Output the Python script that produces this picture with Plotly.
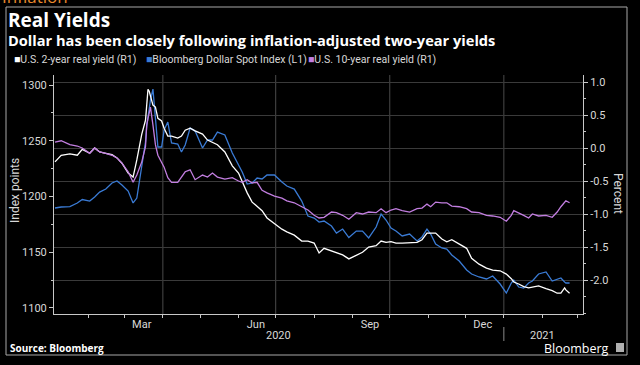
import plotly.graph_objects as go

# ---------------- data ----------------
dates = [
    "2020-01-05", "2020-01-10", "2020-01-17", "2020-01-23", "2020-01-27", "2020-02-02", "2020-02-06",
    "2020-02-10", "2020-02-15", "2020-02-20", "2020-02-24", "2020-02-28", "2020-03-04", "2020-03-08",
    "2020-03-11", "2020-03-15", "2020-03-18", "2020-03-19", "2020-03-20", "2020-03-21", "2020-03-22",
    "2020-03-24", "2020-03-26", "2020-03-28", "2020-03-31", "2020-04-02", "2020-04-05", "2020-04-08",
    "2020-04-13", "2020-04-16", "2020-04-19", "2020-04-23", "2020-04-27", "2020-05-03", "2020-05-07",
    "2020-05-11", "2020-05-15", "2020-05-21", "2020-05-27", "2020-06-01", "2020-06-04", "2020-06-08",
    "2020-06-12", "2020-06-16", "2020-06-20", "2020-06-24", "2020-06-30", "2020-07-06", "2020-07-10",
    "2020-07-16", "2020-07-22", "2020-07-27", "2020-08-01", "2020-08-05", "2020-08-09", "2020-08-15",
    "2020-08-19", "2020-08-24", "2020-08-29", "2020-09-04", "2020-09-09", "2020-09-14", "2020-09-20",
    "2020-09-24", "2020-09-28", "2020-10-02", "2020-10-06", "2020-10-11", "2020-10-17", "2020-10-23",
    "2020-10-27", "2020-10-31", "2020-11-03", "2020-11-07", "2020-11-12", "2020-11-16", "2020-11-20",
    "2020-11-26", "2020-12-02", "2020-12-06", "2020-12-12", "2020-12-18", "2020-12-23", "2020-12-29",
    "2021-01-03", "2021-01-07", "2021-01-09", "2021-01-13", "2021-01-17", "2021-01-21", "2021-01-24",
    "2021-01-29", "2021-02-04", "2021-02-09", "2021-02-13", "2021-02-16", "2021-02-19", "2021-02-20",
    "2021-02-23",
]

us2y_real = [
    -0.21, -0.11, -0.09, -0.11, -0.02, -0.08, 0.00, -0.06, -0.08, -0.10,
    -0.15, -0.23, -0.38, -0.44, -0.18, 0.21, 0.42, 0.73, 0.89, 0.86,
    0.80, 0.65, 0.62, 0.45, 0.41, 0.30, 0.18, 0.18, 0.15, 0.18,
    0.27, 0.30, 0.26, 0.21, 0.12, 0.09, 0.05, -0.06, -0.27, -0.38,
    -0.52, -0.68, -0.82, -0.89, -0.95, -1.06, -1.15, -1.23, -1.27, -1.32,
    -1.41, -1.41, -1.44, -1.59, -1.52, -1.56, -1.58, -1.62, -1.68, -1.62,
    -1.58, -1.50, -1.48, -1.41, -1.43, -1.42, -1.44, -1.44, -1.44, -1.43,
    -1.39, -1.29, -1.29, -1.29, -1.38, -1.42, -1.39, -1.45, -1.52, -1.67,
    -1.76, -1.82, -1.85, -1.86, -1.91, -1.98, -2.03, -2.06, -2.10, -2.12,
    -2.11, -2.09, -2.13, -2.16, -2.20, -2.20, -2.12, -2.15, -2.20,
]

dollar_index = [
    1189.7, 1190.6, 1191.0, 1194.2, 1197.3, 1195.9, 1199.5, 1204.0, 1206.7, 1212.1,
    1213.9, 1210.3, 1204.9, 1194.2, 1198.6, 1228.2, 1248.9, 1263.2, 1270.4, 1276.7,
    1286.5, 1296.4, 1268.6, 1244.4, 1244.4, 1259.6, 1266.8, 1248.0, 1247.1, 1239.9,
    1246.2, 1261.4, 1258.7, 1243.5, 1250.7, 1250.7, 1257.8, 1255.2, 1239.0, 1229.1,
    1222.0, 1211.2, 1212.1, 1216.6, 1215.7, 1219.3, 1219.3, 1213.0, 1209.4, 1206.7,
    1195.9, 1182.5, 1180.7, 1177.1, 1178.0, 1173.5, 1167.2, 1170.8, 1163.2, 1169.0,
    1169.0, 1162.8, 1172.6, 1184.3, 1178.9, 1171.7, 1169.0, 1164.6, 1166.3, 1160.1,
    1163.7, 1170.8, 1166.3, 1157.4, 1153.8, 1152.9, 1147.5, 1142.1, 1134.1, 1130.5,
    1127.8, 1126.0, 1128.7, 1121.5, 1113.4, 1122.4, 1125.1, 1118.8, 1117.8, 1122.4,
    1124.2, 1130.5, 1132.3, 1124.2, 1126.0, 1126.9, 1123.3, 1122.4, 1122.4,
]

us10y_real = [
    0.09, 0.11, 0.05, 0.03, 0.00, -0.08, 0.00, -0.06, -0.08, -0.11,
    -0.15, -0.23, -0.36, -0.52, -0.41, -0.21, 0.02, 0.35, 0.45, 0.55,
    0.62, 0.35, 0.05, -0.11, -0.21, -0.29, -0.45, -0.52, -0.52, -0.44,
    -0.36, -0.33, -0.48, -0.41, -0.44, -0.38, -0.44, -0.47, -0.45, -0.50,
    -0.52, -0.48, -0.53, -0.52, -0.64, -0.68, -0.73, -0.76, -0.80, -0.83,
    -0.89, -0.94, -1.02, -1.06, -1.05, -0.97, -0.98, -1.02, -1.08, -0.98,
    -1.00, -0.97, -0.98, -0.92, -0.98, -0.94, -0.92, -0.95, -0.97, -0.92,
    -0.91, -0.85, -0.89, -0.82, -0.83, -0.83, -0.88, -0.89, -0.92, -0.97,
    -0.98, -1.02, -1.03, -1.05, -1.11, -1.02, -0.95, -0.98, -1.02, -1.06,
    -1.00, -1.03, -1.02, -1.05, -0.97, -0.89, -0.82, -0.80, -0.83,
]

assert len(dates) == len(us2y_real) == len(dollar_index) == len(us10y_real)

series_names = ["U.S. 2-year real yield (R1)", "Bloomberg Dollar Spot Index (L1)", "U.S. 10-year real yield (R1)"]
series_colors = ["#ffffff", "#3a7bd5", "#c27ee0"]

month_label_dates = ["2020-03-15", "2020-06-15", "2020-09-15", "2020-12-15"]
month_labels = ["Mar", "Jun", "Sep", "Dec"]
month_starts = ["2020-02-01", "2020-03-01", "2020-04-01", "2020-05-01", "2020-06-01", "2020-07-01",
                "2020-08-01", "2020-09-01", "2020-10-01", "2020-11-01", "2020-12-01", "2021-01-01",
                "2021-02-01", "2021-03-01"]
quarter_starts = ["2020-04-01", "2020-07-01", "2020-10-01", "2021-01-01"]
year_labels = ["2020", "2021"]
year_label_dates = ["2020-07-03", "2021-02-01"]

left_ticks = [1100, 1150, 1200, 1250, 1300]
right_ticks = [-2.0, -1.5, -1.0, -0.5, 0.0, 0.5, 1.0]
right_ticktext = ["-2.0", "-1.5", "-1.0", "-0.5", "0.0", "0.5", "1.0"]

# ---------------- figure ----------------
W, H = 640, 365
L, R, T, B = 54, 57, 75, 51
PW, PH = W - L - R, H - T - B


def px(x):
    return (x - L) / PW


def py(y):
    return (H - B - y) / PH


AXC = "#c8c8c8"
TXT = "#d8d8d8"
FONT = "Roboto"

fig = go.Figure()
fig.add_trace(go.Scatter(x=dates, y=dollar_index, name=series_names[1], mode="lines",
                         line=dict(color=series_colors[1], width=1.3), yaxis="y"))
fig.add_trace(go.Scatter(x=dates, y=us2y_real, name=series_names[0], mode="lines",
                         line=dict(color=series_colors[0], width=1.3), yaxis="y2"))
fig.add_trace(go.Scatter(x=dates, y=us10y_real, name=series_names[2], mode="lines",
                         line=dict(color=series_colors[2], width=1.3), yaxis="y2"))

fig.update_layout(
    width=W, height=H, autosize=False,
    margin=dict(l=L, r=R, t=T, b=B, pad=0),
    paper_bgcolor="#000000", plot_bgcolor="#000000",
    showlegend=False,
    font=dict(family=FONT, color=TXT, size=11),
    xaxis=dict(
        type="date", range=["2020-01-04 05:00", "2021-03-05 20:00"],
        showline=True, linecolor=AXC, linewidth=1,
        tickvals=month_label_dates, ticktext=month_labels, ticks="",
        tickfont=dict(size=11, color=TXT, family=FONT),
        showgrid=False, zeroline=False,
        minor=dict(tickvals=month_starts, ticks="outside", ticklen=3, tickcolor=AXC, showgrid=False),
    ),
    yaxis=dict(
        range=[1094.6, 1309], side="left",
        tickvals=left_ticks, ticks="outside", ticklen=4, tickcolor=AXC,
        showline=True, linecolor=AXC, linewidth=1,
        showgrid=False, zeroline=False,
        tickfont=dict(size=11, color=TXT, family=FONT),
        minor=dict(dtick=25, ticks="outside", ticklen=2, tickcolor=AXC, showgrid=False),
    ),
    yaxis2=dict(
        range=[-2.515, 1.106], side="right", overlaying="y",
        tickvals=right_ticks, ticktext=right_ticktext, ticks="outside", ticklen=4, tickcolor=AXC,
        showline=True, linecolor=AXC, linewidth=1,
        showgrid=True, gridcolor="#3a3a3a", gridwidth=1, zeroline=False,
        tickfont=dict(size=11, color=TXT, family=FONT),
        minor=dict(dtick=0.25, tick0=0, ticks="outside", ticklen=2, tickcolor=AXC, showgrid=False),
    ),
)

shapes = []
# quarter gridlines
for q in quarter_starts:
    shapes.append(dict(type="line", xref="x", yref="paper", x0=q, x1=q, y0=0, y1=1,
                       line=dict(color="#4a4a4a", width=1), layer="below"))
# year separator in the label row
shapes.append(dict(type="line", xref="x", yref="paper", x0="2021-01-01", x1="2021-01-01",
                   y0=py(327), y1=py(341), line=dict(color="#8a8a8a", width=1)))
# outer frame
shapes.append(dict(type="rect", xref="paper", yref="paper", x0=px(6), x1=px(627), y0=py(355), y1=py(7),
                   line=dict(color="#a8a8a8", width=1), fillcolor="rgba(0,0,0,0)"))
# Bloomberg icon
shapes.append(dict(type="rect", xref="paper", yref="paper", x0=px(616), x1=px(624), y0=py(352), y1=py(343),
                   line=dict(color="#b0b0b0", width=0), fillcolor="#b0b0b0"))
fig.update_layout(shapes=shapes)

ann = []
# cut-off top headline
ann.append(dict(text="Inflation", xref="paper", yref="paper", x=px(0), y=py(-4), xanchor="left", yanchor="middle",
                showarrow=False, font=dict(family="Open Sans", size=17, color="#e8892c")))
ann.append(dict(text="<b>Real Yields</b>", xref="paper", yref="paper", x=px(6), y=py(20), xanchor="left",
                yanchor="middle", showarrow=False, font=dict(family="Open Sans", size=19, color="#ffffff")))
ann.append(dict(text="<b>Dollar has been closely following inflation-adjusted two-year yields</b>", xref="paper",
                yref="paper", x=px(6), y=py(40), xanchor="left", yanchor="middle", showarrow=False,
                font=dict(family="Open Sans", size=14.6, color="#ffffff")))
# legend
leg_x = [12, 144, 306]
for i in range(3):
    ann.append(dict(text='<span style="color:%s">■</span>%s' % (series_colors[i], series_names[i]),
                    xref="paper", yref="paper", x=px(leg_x[i]), y=py(59), xanchor="left", yanchor="middle",
                    showarrow=False, font=dict(family=FONT, size=10.5, color=TXT)))
# axis titles
ann.append(dict(text="Index points", xref="paper", yref="paper", x=px(15), y=py(191), textangle=-90,
                xanchor="center", yanchor="middle", showarrow=False, font=dict(family=FONT, size=12, color=TXT)))
ann.append(dict(text="Percent", xref="paper", yref="paper", x=px(618), y=py(193), textangle=90,
                xanchor="center", yanchor="middle", showarrow=False, font=dict(family=FONT, size=12, color=TXT)))
# year labels
for lab, d in zip(year_labels, year_label_dates):
    ann.append(dict(text=lab, xref="x", yref="paper", x=d, y=py(335), xanchor="center", yanchor="middle",
                    showarrow=False, font=dict(family=FONT, size=11, color=TXT)))
# footer
ann.append(dict(text="<b>Source: Bloomberg</b>", xref="paper", yref="paper", x=px(8), y=py(348), xanchor="left",
                yanchor="middle", showarrow=False, font=dict(family="Open Sans", size=10, color="#ffffff")))
ann.append(dict(text="Bloomberg", xref="paper", yref="paper", x=px(611), y=py(348), xanchor="right",
                yanchor="middle", showarrow=False, font=dict(family="Open Sans", size=12.5, color="#ffffff")))
fig.update_layout(annotations=ann)

fig.write_html("out.html", config={"displayModeBar": False},
               post_script="document.body.style.margin='0';")
